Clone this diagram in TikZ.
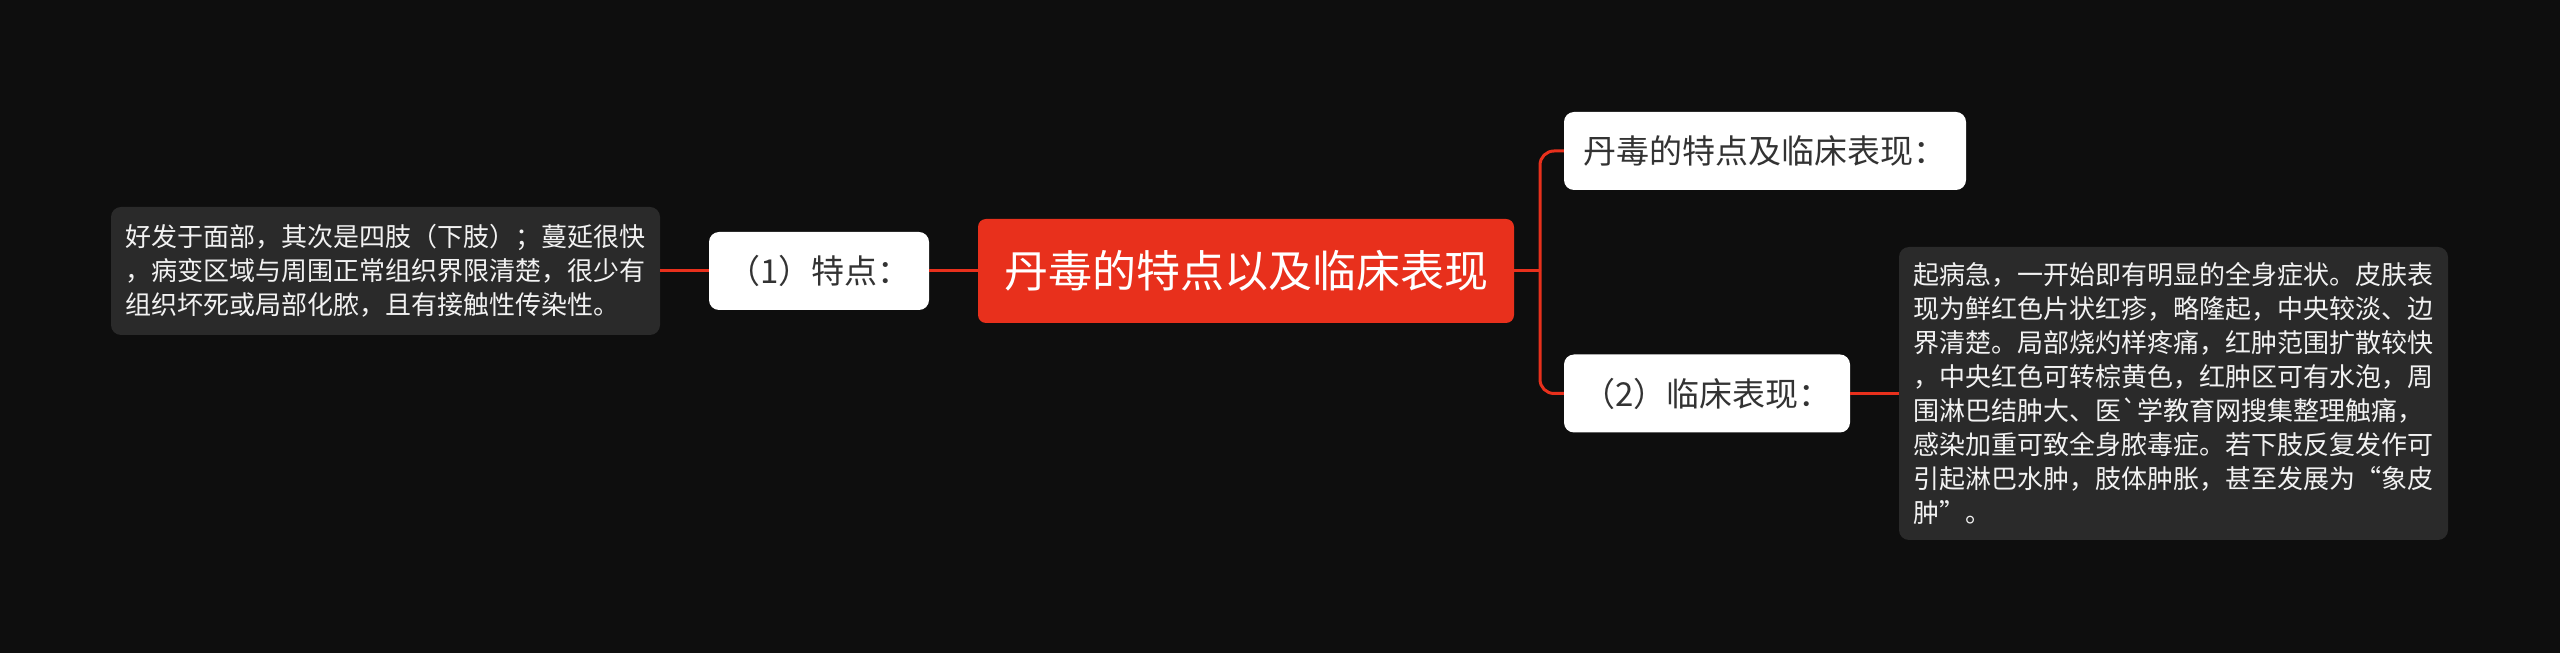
\documentclass[tikz,border=0pt]{standalone}
\usepackage{fontspec}
\newfontfamily\cjk{Noto Sans CJK SC}
\definecolor{bg}{HTML}{0E0E0E}
\definecolor{leafgray}{HTML}{2A2A2A}
\definecolor{mred}{HTML}{E8301C}
\definecolor{darktxt}{HTML}{333333}
\definecolor{lighttxt}{HTML}{F2F2F2}
\begin{document}
\begin{tikzpicture}[x=1pt,y=1pt,
  rootbox/.style={fill=mred, rounded corners=8pt, text=white, font=\cjk\fontsize{44}{52}\selectfont, minimum width=536pt, minimum height=104pt, inner sep=0pt},
  subbox/.style={fill=white, rounded corners=10pt, text=darktxt, font=\cjk\fontsize{33}{40}\selectfont, minimum height=78pt, inner sep=0pt},
  leafbox/.style={fill=leafgray, rounded corners=10pt, text=lighttxt, font=\cjk\fontsize{26}{34}\selectfont, align=left, inner sep=0pt, minimum width=549pt},
  link/.style={draw=mred, line width=3pt}]
\fill[bg] (0,0) rectangle (2560,653);
\useasboundingbox (0,0) rectangle (2560,653);

\node[rootbox] (root) at (1246,382) {丹毒的特点以及临床表现};
\node[subbox, minimum width=220pt] (n1) at (819,382) {（1）特点：};
\node[subbox, minimum width=402pt] (top) at (1765,502) {丹毒的特点及临床表现：};
\node[subbox, minimum width=286pt] (n2) at (1707,259.5) {（2）临床表现：};
\node[leafbox, minimum height=128pt] (leafL) at (385.5,382) {好发于面部，其次是四肢（下肢）；蔓延很快\\，病变区域与周围正常组织界限清楚，很少有\\组织坏死或局部化脓，且有接触性传染性。};
\node[leafbox, minimum height=293pt] (leafR) at (2173.5,259.5) {起病急，一开始即有明显的全身症状。皮肤表\\现为鲜红色片状红疹，略隆起，中央较淡、边\\界清楚。局部烧灼样疼痛，红肿范围扩散较快\\，中央红色可转棕黄色，红肿区可有水泡，周\\围淋巴结肿大、医`学教育网搜集整理触痛，\\感染加重可致全身脓毒症。若下肢反复发作可\\引起淋巴水肿，肢体肿胀，甚至发展为“象皮\\肿”。};

\coordinate (bx) at (1540,382);
\draw[link] (leafL.east) -- (n1.west);
\draw[link] (n1.east) -- (root.west);
\draw[link] (root.east) -- (bx);
\draw[link, rounded corners=14pt] (bx) |- (top.west);
\draw[link, rounded corners=14pt] (bx) |- (n2.west);
\draw[link] (n2.east) -- (leafR.west);
\end{tikzpicture}
\end{document}
